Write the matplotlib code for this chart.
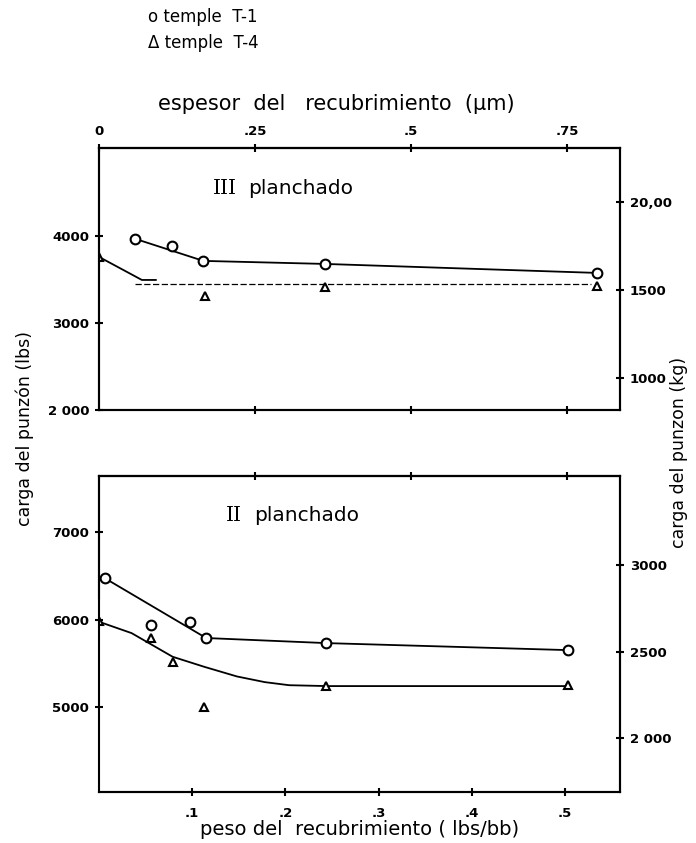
import matplotlib.pyplot as plt

# coating weight (lbs/bb) -> coating thickness (um) on the upper scale
UM_PER_LBS = 1.494

# --- III planchado (upper panel), loads in lbs
top_t1_x = [0.039, 0.078, 0.112, 0.243, 0.534]
top_t1_y = [3966, 3885, 3713, 3678, 3575]
top_t4_x = [0.0, 0.114, 0.243, 0.534]
top_t4_y = [3759, 3310, 3415, 3420]
top_t1_fit_x = [0.039, 0.112, 0.243, 0.534]
top_t1_fit_y = [3966, 3713, 3678, 3575]
top_t4_fit_x = [0.0, 0.046, 0.061]
top_t4_fit_y = [3759, 3494, 3494]
top_t4_dash_x = [0.039, 0.528]
top_t4_dash_y = [3445, 3445]

# --- II planchado (lower panel)
bot_t1_x = [0.006, 0.056, 0.098, 0.115, 0.244, 0.503]
bot_t1_y = [6474, 5937, 5971, 5789, 5731, 5651]
bot_t4_x = [0.0, 0.056, 0.079, 0.113, 0.244, 0.503]
bot_t4_y = [5983, 5789, 5514, 5000, 5240, 5250]
bot_t1_fit_x = [0.006, 0.115, 0.244, 0.503]
bot_t1_fit_y = [6474, 5789, 5731, 5651]
bot_t4_fit_x = [0.0, 0.035, 0.079, 0.113, 0.148, 0.178, 0.204, 0.245, 0.503]
bot_t4_fit_y = [5975, 5845, 5575, 5460, 5350, 5285, 5250, 5240, 5240]

# ticks
top_lbs_ticks = [2000, 3000, 4000]
top_lbs_labels = ['2 000', '3000', '4000']
top_kg_ticks = [1000, 1500, 2000]
top_kg_labels = ['1000', '1500', '20,00']
bot_lbs_ticks = [5000, 6000, 7000]
bot_lbs_labels = ['5000', '6000', '7000']
bot_kg_ticks = [2000, 2500, 3000]
bot_kg_labels = ['2 000', '2500', '3000']
um_ticks = [0, 0.25, 0.5, 0.75]
um_labels = ['0', '.25', '.5', '.75']
lbs_bb_ticks = [0.1, 0.2, 0.3, 0.4, 0.5]
lbs_bb_labels = ['.1', '.2', '.3', '.4', '.5']

XLIM = (0.0, 0.559)
W, H = 696, 843

fig = plt.figure(figsize=(W / 100, H / 100), dpi=100)
plt.rcParams['font.family'] = ['DejaVu Sans']


def box(l, t, r, b):
    return [l / W, 1 - b / H, (r - l) / W, (b - t) / H]


def style(ax, pad=4):
    for s in ax.spines.values():
        s.set_linewidth(1.5)
    ax.tick_params(direction='inout', length=6, width=1.5, labelsize=9.5,
                   pad=pad)
    for lab in ax.get_xticklabels() + ax.get_yticklabels():
        lab.set_fontweight('bold')


circ = dict(marker='o', ls='none', ms=7, mfc='white', mec='black', mew=1.5)
tri = dict(marker='^', ls='none', ms=6, mfc='white', mec='black', mew=1.5)

# upper panel
ax1 = fig.add_axes(box(99, 148, 620, 410))
ax1.plot(top_t1_fit_x, top_t1_fit_y, color='black', lw=1.3)
ax1.plot(top_t4_fit_x, top_t4_fit_y, color='black', lw=1.3)
ax1.plot(top_t4_dash_x, top_t4_dash_y, color='black', lw=0.9, ls=(0, (5, 2)))
ax1.plot(top_t1_x, top_t1_y, **circ)
ax1.plot(top_t4_x, top_t4_y, **tri)
ax1.set_xlim(*XLIM)
ax1.set_ylim(2000, 5010)
ax1.set_yticks(top_lbs_ticks, top_lbs_labels)
ax1.set_xticks([u / UM_PER_LBS for u in um_ticks[1:]], [])
ax1.text(0.148, 4550, 'III', family='DejaVu Serif', fontsize=14.5,
         ha='right', va='center')
ax1.text(0.160, 4550, 'planchado', fontsize=14.5, ha='left', va='center')
secx = ax1.secondary_xaxis('top', functions=(lambda x: x * UM_PER_LBS,
                                             lambda x: x / UM_PER_LBS))
secx.set_xticks(um_ticks, um_labels)
ax1r = ax1.twinx()
ax1r.set_ylim(818, 2307)
ax1r.set_yticks(top_kg_ticks, top_kg_labels)
for a in (ax1, secx, ax1r):
    style(a)

# lower panel
ax2 = fig.add_axes(box(99, 476, 620, 792))
ax2.plot(bot_t1_fit_x, bot_t1_fit_y, color='black', lw=1.3)
ax2.plot(bot_t4_fit_x, bot_t4_fit_y, color='black', lw=1.3)
ax2.plot(bot_t1_x, bot_t1_y, **circ)
ax2.plot(bot_t4_x, bot_t4_y, **tri)
ax2.set_xlim(*XLIM)
ax2.set_ylim(4030, 7640)
ax2.set_yticks(bot_lbs_ticks, bot_lbs_labels)
ax2.set_xticks(lbs_bb_ticks, lbs_bb_labels)
ax2.set_xlabel('peso del  recubrimiento ( lbs/bb)', fontsize=14, labelpad=0)
ax2.text(0.153, 7190, 'II', family='DejaVu Serif', fontsize=14.5,
         ha='right', va='center')
ax2.text(0.166, 7190, 'planchado', fontsize=14.5, ha='left', va='center')
ax2t = ax2.secondary_xaxis('top', functions=(lambda x: x * UM_PER_LBS,
                                             lambda x: x / UM_PER_LBS))
ax2t.set_xticks(um_ticks[1:], [])
ax2r = ax2.twinx()
ax2r.set_ylim(1690, 3515)
ax2r.set_yticks(bot_kg_ticks, bot_kg_labels)
# broken left border below the 6000 line, as in the drawing
ax2.spines['left'].set_visible(False)
ax2.plot([0, 0], [7640, 6250], color='black', lw=1.5, clip_on=False,
         transform=ax2.get_yaxis_transform())
ax2.plot([0, 0], [6250, 4030], color='black', lw=1.3, ls=(0, (4, 1.5)),
         clip_on=False, transform=ax2.get_yaxis_transform())
for a in (ax2, ax2t, ax2r):
    style(a)
ax2.tick_params(axis='x', pad=8)

# shared axis titles and legend
fig.text(336 / W, 1 - 104 / H, 'espesor  del   recubrimiento  (μm)',
         fontsize=15, ha='center', va='center')
fig.text(25 / W, 1 - 428 / H, 'carga del punzón (lbs)', rotation=90,
         fontsize=12.5, ha='center', va='center')
fig.text(679 / W, 1 - 452 / H, 'carga del punzon (kg)', rotation=90,
         fontsize=12.5, ha='center', va='center')
fig.text(148 / W, 1 - 17 / H, 'o temple  T-1', fontsize=12, va='center')
fig.text(148 / W, 1 - 43 / H, '\u0394 temple  T-4', fontsize=12, va='center')

plt.savefig('out.png')
